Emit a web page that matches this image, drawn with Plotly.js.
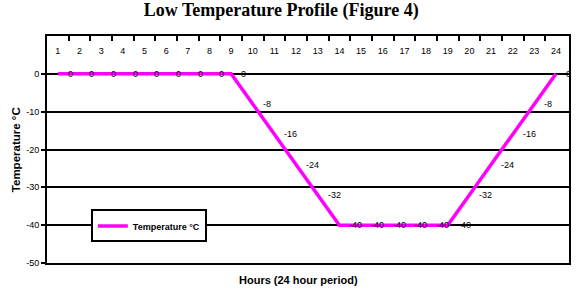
<!DOCTYPE html>
<html><head><meta charset="utf-8">
<script src="https://cdn.plot.ly/plotly-3.0.1.min.js"></script>
<style>html,body{margin:0;padding:0;background:#fff}#chart{width:586px;height:292px}</style>
</head><body><div id="chart"></div>
<script>
const hours = [1,2,3,4,5,6,7,8,9,10,11,12,13,14,15,16,17,18,19,20,21,22,23,24];
const temps = [0,0,0,0,0,0,0,0,0,-8,-16,-24,-32,-40,-40,-40,-40,-40,-40,-32,-24,-16,-8,0];
const tickLabels = hours.map(String);
const yTicks = [10,0,-10,-20,-30,-40,-50];

const black = '#000';
const sans = 'Liberation Sans, Arial, sans-serif';
const xr = [0.5, 24.6];

const traces = [{
  x: hours, y: temps, type: 'scatter', mode: 'lines',
  name: 'Temperature °C',
  line: {color: '#FF00FF', width: 3.5},
  hoverinfo: 'skip', cliponaxis: false
}];

const anns = hours.map((h, i) => ({
  x: h, y: temps[i], xref: 'x', yref: 'y', text: String(temps[i]),
  showarrow: false, xanchor: 'left', yanchor: 'middle', xshift: 8,
  font: {family: sans, size: 9, color: black}
}));
anns.push({
  x: 0.482, y: -0.075, xref: 'paper', yref: 'paper', text: '<b>Hours (24 hour period)</b>',
  showarrow: false, xanchor: 'center', yanchor: 'middle',
  font: {family: sans, size: 11, color: black}
});
anns.push({
  x: -0.06, y: 0.5, xref: 'paper', yref: 'paper', text: '<b>Temperature °C</b>',
  showarrow: false, xanchor: 'center', yanchor: 'middle', textangle: -90,
  font: {family: sans, size: 11.5, color: black}
});

const layout = {
  width: 586, height: 292,
  margin: {l: 47, r: 17, t: 36, b: 29, pad: 0},
  paper_bgcolor: '#fff', plot_bgcolor: '#fff',
  showlegend: true,
  title: {text: '<b>Low Temperature Profile (Figure 4)</b>', x: 0.48, xanchor: 'center', y: 0.99, yanchor: 'top',
          font: {family: 'Liberation Serif, Times New Roman, serif', size: 18, color: black}},
  xaxis: {
    range: xr, side: 'top', showgrid: false, zeroline: false,
    tickmode: 'array', tickvals: hours, ticktext: tickLabels,
    ticks: '', ticklabelposition: 'inside', ticklabelstandoff: 11,
    tickfont: {family: sans, size: 9, color: black},
    showline: true, linecolor: black, linewidth: 2, mirror: true,
    minor: {
      tickmode: 'array', tickvals: hours.slice(0, -1).map(h => h + 0.5),
      ticks: 'inside', ticklen: 5, tickwidth: 2, tickcolor: black, showgrid: false
    }
  },
  yaxis: {
    range: [-50, 10], tickmode: 'array', tickvals: yTicks, ticktext: yTicks.map(String),
    showgrid: true, gridcolor: black, gridwidth: 2, zeroline: false,
    ticks: 'outside', ticklen: 4, tickwidth: 2, tickcolor: black,
    tickfont: {family: sans, size: 9, color: black},
    showline: true, linecolor: black, linewidth: 2, mirror: true
  },
  legend: {
    x: 0.084, y: 0.163, xanchor: 'left', yanchor: 'middle',
    bgcolor: '#fff', bordercolor: black, borderwidth: 2,
    font: {family: sans, size: 9, color: black, weight: 'bold'},
    itemwidth: 30, tracegroupgap: 0
  },
  annotations: anns
};

Plotly.newPlot('chart', traces, layout, {displayModeBar: false, staticPlot: true});
</script>
</body></html>
